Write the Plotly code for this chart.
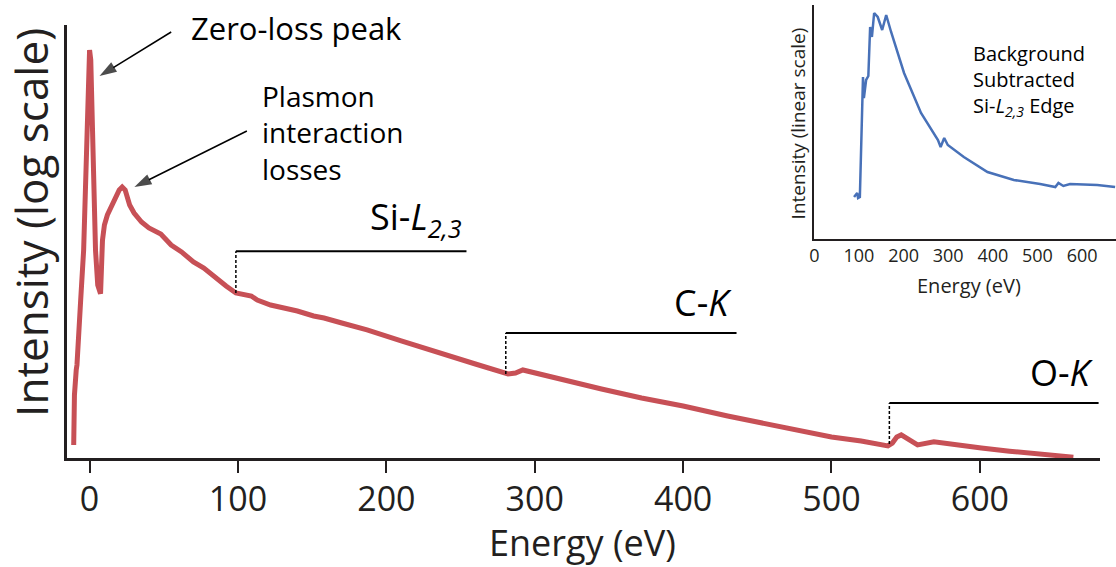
import numpy as np
import plotly.graph_objects as go

# ---------------- main spectrum (log intensity, arbitrary units) ----------------
energy = [-10.7, -10.2, -9.0, -8.5, -6, -4, -2, -0.8, 0, 0.8, 2, 4, 5.5, 7.4, 8.7, 10,
          12, 14.8, 18, 20, 22, 24, 27, 30, 35, 40, 48, 55, 62, 70, 77, 85, 92, 98.6,
          104, 109, 113, 122, 131, 140, 151, 158, 170, 187, 210, 235, 260, 282, 287,
          292, 300, 320, 345, 372, 400, 430, 466, 500, 520, 535, 538, 541, 544, 547,
          551, 558, 569, 583, 601, 620, 634, 650, 663]
intensity = [1.35, 4.27, 7.59, 8.51, 38.0, 120, 1202, 9550, 12023, 9550, 1202, 120,
             53.7, 44.0, 151, 214, 269, 324, 407, 479, 513, 479, 339, 282, 229, 200,
             174, 135, 115, 91.2, 79.4, 63.1, 52.5, 44.7, 42.7, 41.7, 38.0, 33.9, 31.6,
             29.5, 26.3, 25.1, 22.4, 19.1, 14.8, 11.5, 8.71, 6.92, 7.08, 7.59, 7.08,
             6.03, 4.90, 3.98, 3.31, 2.63, 2.04, 1.62, 1.48, 1.32, 1.32, 1.41, 1.62,
             1.70, 1.55, 1.35, 1.45, 1.38, 1.26, 1.17, 1.12, 1.07, 1.02]

# ---------------- core-loss edge markers ----------------
edge_labels = ["Si-<i>L</i><sub><i>2,3</i></sub>", "C-<i>K</i>", "O-<i>K</i>"]
edge_onset = [98.6, 280.5, 539]
edge_bar_end = [254, 436, 680]
edge_bar_level = [117, 17.8, 3.55]
edge_curve_level = [44.7, 6.92, 1.38]

# ---------------- callout arrows (tail -> head, data coordinates) ----------------
arrow_x = [[55.0, 6.7], [106.0, 30.2]]
arrow_y = [[18197, 6607], [1862, 513]]

# ---------------- inset: background-subtracted Si-L2,3 edge ----------------
inset_energy = [89, 96, 98, 102, 109, 111, 116, 121, 125, 129, 134, 142, 152, 161, 172,
                201, 239, 277, 283, 291, 299, 335, 388, 447, 506, 540, 547, 558, 573,
                634, 674]
inset_intensity = [42, 46, 41, 42, 162, 141, 159, 163, 212, 202, 226, 222, 209, 224,
                   207, 166, 126, 99, 92, 101, 94, 82, 67, 59, 55, 52, 56, 53, 55, 54, 52]

main_ticks = [0, 100, 200, 300, 400, 500, 600]
inset_ticks = [0, 100, 200, 300, 400, 500, 600]

RED = "rgb(199,80,86)"
BLUE = "rgb(72,113,184)"
INK = "#231f20"
FONT = "Open Sans"

W, H = 1116, 567
fig = go.Figure()

fig.add_trace(go.Scatter(x=energy, y=intensity, mode="lines",
                         line=dict(color=RED, width=5), xaxis="x", yaxis="y",
                         showlegend=False, hoverinfo="skip"))

for i in range(len(edge_onset)):
    fig.add_trace(go.Scatter(x=[edge_onset[i], edge_onset[i]],
                             y=[edge_curve_level[i], edge_bar_level[i]],
                             mode="lines", line=dict(color="black", width=1.5, dash="3px,2px"),
                             xaxis="x", yaxis="y", showlegend=False, hoverinfo="skip"))
    fig.add_trace(go.Scatter(x=[edge_onset[i], edge_bar_end[i]],
                             y=[edge_bar_level[i], edge_bar_level[i]],
                             mode="lines", line=dict(color="black", width=2),
                             xaxis="x", yaxis="y", showlegend=False, hoverinfo="skip"))

for ax_, ay_ in zip(arrow_x, arrow_y):
    fig.add_trace(go.Scatter(x=ax_, y=ay_, mode="lines+markers",
                             line=dict(color="black", width=1.5),
                             marker=dict(symbol="arrow", size=[0, 18], color="black",
                                         angleref="previous", line=dict(width=0)),
                             xaxis="x", yaxis="y", showlegend=False, hoverinfo="skip"))

fig.add_trace(go.Scatter(x=inset_energy, y=inset_intensity, mode="lines",
                         line=dict(color=BLUE, width=2.5), xaxis="x2", yaxis="y2",
                         showlegend=False, hoverinfo="skip"))

annotations = []
for i in range(len(edge_onset)):
    annotations.append(dict(x=edge_bar_end[i] - 2, y=np.log10(edge_bar_level[i]),
                            xref="x", yref="y", text=edge_labels[i], showarrow=False,
                            xanchor="right", yanchor="bottom", yshift=4,
                            font=dict(family=FONT, size=36, color="black")))

def ptext(txt, xpx, ypx, size, xanchor="left", angle=0, color="black", align="left"):
    annotations.append(dict(x=xpx / W, y=1 - ypx / H, xref="paper", yref="paper",
                            text=txt, showarrow=False, xanchor=xanchor, yanchor="middle",
                            textangle=angle, align=align,
                            font=dict(family=FONT, size=size, color=color)))

ptext("Zero-loss peak", 185, 28, 31)
ptext("Plasmon<br>interaction<br>losses", 256, 133, 28)
ptext("Background<br>Subtracted<br>Si-<i>L</i><sub><i>2,3</i></sub> Edge", 970, 80, 20)
ptext("Intensity (log scale)", 26, 222, 44, xanchor="center", angle=-90, color=INK)
ptext("Intensity (linear scale)", 797, 123, 19, xanchor="center", angle=-90, color=INK)
ptext("Energy (eV)", 580, 542, 36, xanchor="center", color=INK)
ptext("Energy (eV)", 968, 285, 20, xanchor="center", color=INK)

fig.update_layout(
    width=W, height=H, margin=dict(l=0, r=0, t=0, b=0),
    paper_bgcolor="white", plot_bgcolor="rgba(0,0,0,0)",
    font=dict(family=FONT, color=INK),
    xaxis=dict(domain=[62 / W, 1100 / W], range=[-15.4, 681], tickvals=main_ticks,
               ticks="outside", ticklen=12, tickwidth=1.5, tickcolor=INK,
               ticklabelstandoff=-3,
               showline=True, linewidth=2.5, linecolor=INK, showgrid=False,
               zeroline=False, tickfont=dict(size=34, color=INK), anchor="y"),
    yaxis=dict(domain=[1 - 458 / H, 1 - 25 / H], type="log", range=[0, 4.33],
               showticklabels=False, ticks="", showline=True, linewidth=2.5,
               linecolor=INK, showgrid=False, zeroline=False, anchor="x"),
    xaxis2=dict(domain=[813 / W, 1.0], range=[0, 676], tickvals=inset_ticks,
                ticks="", showline=True, linewidth=1.5, linecolor=INK, showgrid=False,
                zeroline=False, tickfont=dict(size=18, color=INK), anchor="y2"),
    yaxis2=dict(domain=[1 - 239 / H, 1 - 5 / H], range=[0, 234], showticklabels=False,
                ticks="", showline=True, linewidth=1.5, linecolor=INK, showgrid=False,
                zeroline=False, anchor="x2"),
    annotations=annotations,
)

fig.write_html("out.html")
